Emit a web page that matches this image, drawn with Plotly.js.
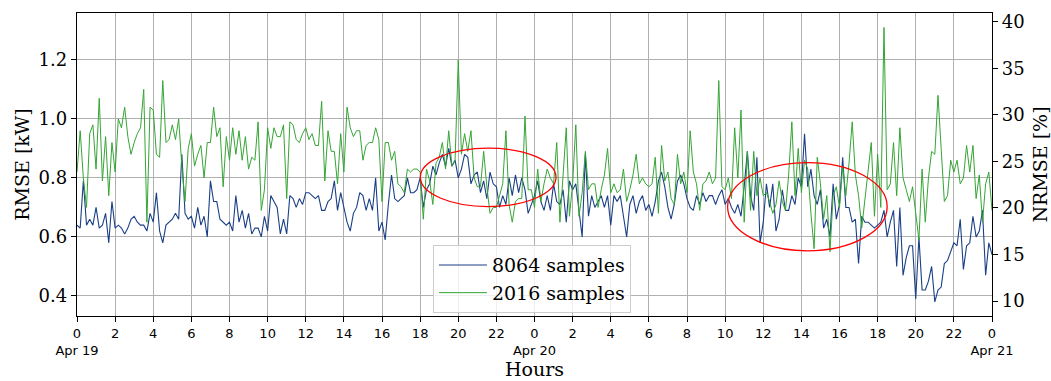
<!DOCTYPE html>
<html><head><meta charset="utf-8">
<script src="https://cdn.plot.ly/plotly-3.0.1.min.js"></script>
<style>html,body{margin:0;padding:0;background:#fff}#chart{width:1051px;height:381px}</style>
</head><body><div id="chart"></div>
<script>
// RMSE [kW], one value every 10 minutes from Apr 19 00:00 to Apr 21 00:00
const samples8064 = [
0.64,0.63,0.79,0.64,0.66,0.64,0.70,0.63,0.64,0.68,0.58,0.72,0.63,0.64,0.63,0.61,0.63,0.66,0.67,0.65,0.64,0.64,0.62,0.68,0.65,0.75,0.62,0.58,0.64,0.65,0.66,0.68,0.66,0.88,0.68,0.66,0.67,0.63,
0.70,0.64,0.67,0.60,0.79,0.72,0.72,0.66,0.65,0.64,0.65,0.62,0.74,0.65,0.69,0.63,0.68,0.61,0.63,0.63,0.60,0.67,0.62,0.74,0.72,0.70,0.61,0.66,0.61,0.74,0.73,0.70,0.73,0.71,0.75,0.75,
0.74,0.73,0.74,0.69,0.69,0.72,0.73,0.79,0.69,0.75,0.70,0.65,0.62,0.68,0.70,0.75,0.74,0.69,0.73,0.69,0.80,0.62,0.65,0.59,0.71,0.81,0.73,0.72,0.73,0.74,0.80,0.75,0.75,0.76,0.80,0.70,
0.76,0.78,0.84,0.81,0.85,0.88,0.84,0.90,0.84,0.86,0.80,0.83,0.88,0.87,0.78,0.81,0.82,0.75,0.79,0.73,0.82,0.78,0.77,0.70,0.74,0.71,0.80,0.74,0.81,0.75,0.80,0.76,0.68,0.71,0.74,0.79,
0.72,0.69,0.74,0.69,0.78,0.72,0.71,0.76,0.65,0.79,0.76,0.78,0.69,0.60,0.88,0.67,0.74,0.70,0.72,0.74,0.70,0.74,0.64,0.74,0.72,0.74,0.67,0.60,0.71,0.74,0.68,0.72,0.74,0.69,0.71,0.67,
0.72,0.79,0.82,0.77,0.70,0.66,0.71,0.79,0.81,0.78,0.73,0.70,0.69,0.74,0.71,0.75,0.72,0.74,0.74,0.71,0.74,0.76,0.71,0.73,0.70,0.68,0.71,0.67,0.77,0.89,0.74,0.69,0.87,0.58,0.65,0.78,
0.70,0.78,0.62,0.66,0.76,0.69,0.69,0.74,0.71,0.80,0.77,0.95,0.77,0.83,0.74,0.71,0.76,0.63,0.66,0.60,0.78,0.66,0.71,0.87,0.70,0.70,0.65,0.66,0.51,0.67,0.65,0.65,0.64,0.63,0.64,0.65,
0.69,0.60,0.65,0.69,0.50,0.70,0.47,0.53,0.57,0.57,0.39,0.60,0.42,0.42,0.45,0.50,0.38,0.42,0.43,0.51,0.52,0.55,0.58,0.57,0.66,0.49,0.57,0.58,0.67,0.60,0.62,0.69,0.47,0.58,0.54
];
const samples2016 = [
0.82,0.96,0.80,0.70,0.95,0.98,0.83,1.07,0.79,0.94,0.74,0.92,0.82,1.00,0.97,1.04,0.94,0.88,0.92,0.95,0.97,1.10,0.65,1.04,1.03,0.88,0.87,1.13,0.92,0.93,0.98,0.93,1.00,0.84,0.72,0.90,0.95,0.84,
0.88,0.91,0.80,0.92,0.92,1.04,0.94,0.97,0.77,0.94,0.86,0.97,0.88,0.96,0.86,0.94,0.83,0.87,0.86,0.99,0.69,0.76,0.97,0.90,0.97,0.94,0.94,0.98,0.73,0.99,0.98,0.93,0.92,0.95,0.97,0.93,
0.95,0.91,0.91,1.06,0.79,0.96,0.89,0.89,0.78,0.95,0.82,1.04,0.97,0.94,0.96,0.96,0.86,0.91,0.92,0.92,0.97,0.93,0.72,0.92,0.92,0.86,0.89,0.78,0.77,0.75,0.83,0.82,0.83,0.83,0.82,0.66,
0.83,0.79,0.71,0.85,0.87,0.92,0.83,0.96,0.84,0.86,1.20,0.88,0.95,0.89,0.96,0.80,0.77,0.77,0.89,0.77,0.68,0.70,0.70,0.74,0.78,0.96,0.71,0.65,0.72,0.73,0.73,1.01,0.76,0.76,0.70,0.83,
0.72,0.78,0.83,0.80,0.78,0.92,0.65,0.81,0.97,0.67,0.78,0.98,0.67,0.75,0.89,0.76,0.78,0.78,0.70,0.76,0.81,0.90,0.75,0.78,0.75,0.76,0.83,0.72,0.76,0.81,0.88,0.78,0.80,0.78,0.77,0.78,
0.87,0.68,0.91,0.79,0.82,0.73,0.71,0.88,0.78,0.82,0.75,0.96,0.82,0.78,0.69,0.78,0.79,0.82,0.78,0.80,1.13,0.77,0.76,0.80,0.73,0.97,0.80,1.03,0.65,0.89,0.69,0.89,0.74,0.80,0.74,0.75,
0.72,0.68,0.71,0.79,0.72,0.69,0.81,0.99,0.74,0.90,0.75,0.86,0.83,0.68,0.56,0.87,0.78,0.66,0.74,0.55,0.74,0.77,0.70,0.84,0.74,0.85,0.99,0.81,0.74,0.63,0.73,0.81,0.92,0.67,0.88,0.70,
1.31,0.76,0.78,0.92,0.74,0.97,0.80,0.76,0.72,0.77,0.67,0.59,0.83,0.65,0.80,0.89,0.88,1.08,0.90,0.72,0.74,0.86,0.82,0.86,0.78,0.80,0.91,0.82,0.91,0.73,0.81,0.65,0.78,0.82,0.69
];
const seriesNames = ['8064 samples', '2016 samples'];
const stepHours = 1 / 6;
const tickHours = [0,2,4,6,8,10,12,14,16,18,20,22,24,26,28,30,32,34,36,38,40,42,44,46,48];
const tickLabels = ['0<br>Apr 19','2','4','6','8','10','12','14','16','18','20','22',
  '0<br>Apr 20','2','4','6','8','10','12','14','16','18','20','22','0<br>Apr 21'];
const rmseTicks = [0.4, 0.6, 0.8, 1.0, 1.2];
const nrmseTicks = [10, 15, 20, 25, 30, 35, 40];

const hours = samples8064.map((_, i) => i * stepHours);

const traces = [
  {x: hours, y: samples8064, name: seriesNames[0], type: 'scatter', mode: 'lines',
   line: {color: '#1a3f86', width: 1.1}},
  {x: hours, y: samples2016, name: seriesNames[1], type: 'scatter', mode: 'lines',
   line: {color: '#35a534', width: 1}},
  // empty trace so that the secondary (NRMSE) axis is drawn
  {x: [], y: [], yaxis: 'y2', type: 'scatter', mode: 'lines', showlegend: false, hoverinfo: 'skip'}
];

const serif = 'DejaVu Serif, serif';
const layout = {
  width: 1051, height: 381,
  margin: {l: 77, r: 59, t: 13, b: 65},
  paper_bgcolor: '#fff', plot_bgcolor: '#fff',
  font: {family: serif, color: '#000', size: 18},
  showlegend: true,
  legend: {x: 0.389, y: 0.234, xanchor: 'left', yanchor: 'top',
    bgcolor: 'rgba(255,255,255,0.8)', bordercolor: '#cccccc', borderwidth: 1,
    font: {family: serif, size: 19}, itemwidth: 48, tracegroupgap: 0},
  xaxis: {range: [0, 48], tickvals: tickHours, ticktext: tickLabels,
    tickfont: {family: 'DejaVu Sans, sans-serif', size: 13},
    showgrid: true, gridcolor: '#b0b0b0', gridwidth: 1,
    showline: true, linecolor: '#000', linewidth: 1.2, mirror: true,
    ticks: 'outside', ticklen: 5, tickcolor: '#000', zeroline: false,
    title: {text: 'Hours', font: {family: serif, size: 19}, standoff: 4}},
  yaxis: {range: [0.332, 1.359], tickvals: rmseTicks, tickformat: '.1f',
    tickfont: {family: serif, size: 18},
    showgrid: true, gridcolor: '#b0b0b0', gridwidth: 1,
    showline: true, linecolor: '#000', linewidth: 1.2, mirror: true,
    ticks: 'outside', ticklen: 5, tickcolor: '#000', zeroline: false,
    title: {text: 'RMSE [kW]', font: {family: serif, size: 19}}},
  yaxis2: {overlaying: 'y', side: 'right', anchor: 'x', range: [8.39, 40.93], tickvals: nrmseTicks,
    tickfont: {family: serif, size: 18}, showgrid: false,
    showline: true, linecolor: '#000', linewidth: 1.2,
    ticks: 'outside', ticklen: 5, tickcolor: '#000', zeroline: false,
    title: {text: 'NRMSE [%]', font: {family: serif, size: 19}}},
  shapes: [
    {type: 'circle', xref: 'x', yref: 'y', x0: 18.01, x1: 25.13, y0: 0.703, y1: 0.901,
     line: {color: '#ff0000', width: 1.3}},
    {type: 'circle', xref: 'x', yref: 'y', x0: 34.13, x1: 42.5, y0: 0.553, y1: 0.852,
     line: {color: '#ff0000', width: 1.3}}
  ]
};
Plotly.newPlot('chart', traces, layout, {staticPlot: true, displayModeBar: false});
</script>
</body></html>
